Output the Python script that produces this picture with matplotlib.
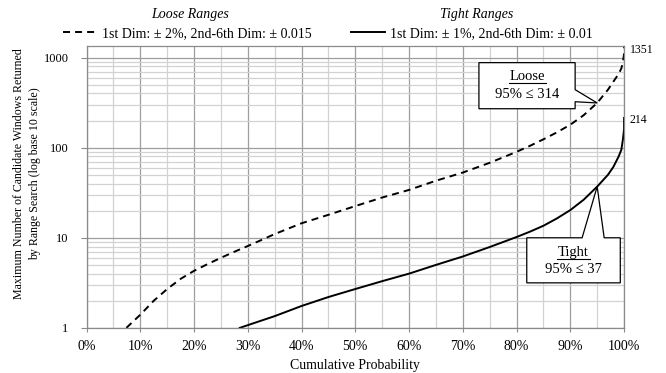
import matplotlib.pyplot as plt
import matplotlib.ticker as mticker
from matplotlib.patches import Polygon

plt.rcParams['font.family'] = ['Liberation Serif', 'DejaVu Serif']
plt.rcParams['font.size'] = 9

# cumulative probability (%) vs max number of candidate windows
loose_p = [7.4, 10, 12.5, 15, 17.5, 20, 22.5, 25, 27.5, 30, 35, 40, 45, 50, 55, 60,
           65, 70, 75, 80, 82.5, 85, 87.5, 90, 92.5, 95, 97, 98, 99, 99.5, 99.8, 100, 100]
loose_n = [1, 1.4, 2.0, 2.7, 3.5, 4.3, 5.1, 6.0, 7.0, 8.1, 11, 14.5, 18, 22.5, 28, 34,
           43, 53, 68, 90, 105, 124, 148, 180, 230, 314, 440, 540, 660, 760, 900, 1100, 1351]
tight_p = [28.5, 35, 40, 45, 50, 55, 60, 65, 70, 75, 80, 82.5, 85, 87.5, 90, 92.5, 95,
           97, 98, 99, 99.5, 99.8, 100, 100]
tight_n = [1, 1.35, 1.75, 2.2, 2.7, 3.3, 4.0, 5.0, 6.2, 7.9, 10.2, 11.7, 13.6, 16.4, 20.3, 26.5, 37,
           50, 61, 80, 95, 125, 160, 214]

loose_label = '1st Dim: ± 2%, 2nd-6th Dim: ± 0.015'
tight_label = '1st Dim: ± 1%, 2nd-6th Dim: ± 0.01'
loose_max, tight_max = 1351, 214
loose_p95, tight_p95 = 314, 37

fig = plt.figure(figsize=(6.66, 3.73), dpi=100)
ax = fig.add_axes([0.130, 0.121, 0.807, 0.756])

ax.set_yscale('log')
ax.set_xlim(0, 100)
ax.set_ylim(1, loose_max)

ax.xaxis.set_major_locator(mticker.MultipleLocator(10))
ax.xaxis.set_minor_locator(mticker.MultipleLocator(5))
ax.xaxis.set_major_formatter(mticker.FuncFormatter(lambda v, p: f'{v:.0f}%'))
ax.yaxis.set_major_locator(mticker.LogLocator(base=10, numticks=10))
ax.yaxis.set_minor_locator(mticker.LogLocator(base=10, subs=range(2, 10), numticks=10))
ax.yaxis.set_major_formatter(mticker.FuncFormatter(lambda v, p: f'{v:.0f}'))
ax.yaxis.set_minor_formatter(mticker.NullFormatter())

ax.grid(True, which='major', color='#9e9e9e', linewidth=0.9)
ax.grid(True, which='minor', color='#d2d2d2', linewidth=0.9)
ax.set_axisbelow(True)
for s in ax.spines.values():
    s.set_color('#8a8a8a')
    s.set_linewidth(0.9)
ax.tick_params(which='minor', length=0)
ax.tick_params(axis='y', which='major', length=4, color='#8a8a8a', pad=9, labelsize=9)
ax.tick_params(axis='x', which='major', length=3, color='#8a8a8a', pad=6, labelsize=10)

ax.plot(loose_p, loose_n, color='black', linewidth=1.4, linestyle=(0, (3.6, 2.6)),
        label=loose_label, clip_on=False)
ax.plot(tight_p, tight_n, color='black', linewidth=1.4, label=tight_label, clip_on=False)

ax.set_xlabel('Cumulative Probability', fontsize=10, labelpad=4)
ax.set_ylabel('Maximum Number of Candidate Windows Returned\nby Range Search (log base 10 scale)',
              fontsize=8.6, linespacing=1.45)
ax.yaxis.set_label_coords(-0.084, 0.546)

# end values
ax.text(101.1, loose_max * 0.9, f'{loose_max}', fontsize=8.5, ha='left', va='center')
ax.text(101.1, tight_max * 0.95, f'{tight_max}', fontsize=8.5, ha='left', va='center')

# callout shapes (box + pointer)
loose_box = [(73.0, 271), (73.0, 880), (90.9, 880), (90.9, 441), (95, loose_p95),
             (90.9, 324), (90.9, 271)]
tight_box = [(81.9, 3.16), (81.9, 10), (92.2, 10), (95, tight_p95), (96.3, 10),
             (99.3, 10), (99.3, 3.16)]
for verts in (loose_box, tight_box):
    ax.add_patch(Polygon(verts, closed=True, fc='white', ec='black', lw=0.9, zorder=5))

ax.text(82.0, 617, 'Loose', fontsize=10.5, ha='center', va='center', zorder=6)
ax.text(82.0, 387, '95% ≤ ' + str(loose_p95), fontsize=10.5, ha='center', va='center', zorder=6)
ax.plot([78.6, 85.4], [520, 520], color='black', lw=0.8, zorder=6)
ax.text(90.6, 6.8, 'Tight', fontsize=10.5, ha='center', va='center', zorder=6)
ax.text(90.6, 4.4, '95% ≤ ' + str(tight_p95), fontsize=10.5, ha='center', va='center', zorder=6)
ax.plot([87.6, 93.6], [5.75, 5.75], color='black', lw=0.8, zorder=6)

leg = fig.legend(loc='center', bbox_to_anchor=(0.4925, 0.911), ncol=2, frameon=False,
                 fontsize=10, handlelength=2.45, handletextpad=0.35, columnspacing=2.8)
fig.text(0.285, 0.96, 'Loose Ranges', fontsize=10, style='italic', ha='center', va='center')
fig.text(0.715, 0.96, 'Tight Ranges', fontsize=10, style='italic', ha='center', va='center')

fig.savefig('out.png', dpi=100)
